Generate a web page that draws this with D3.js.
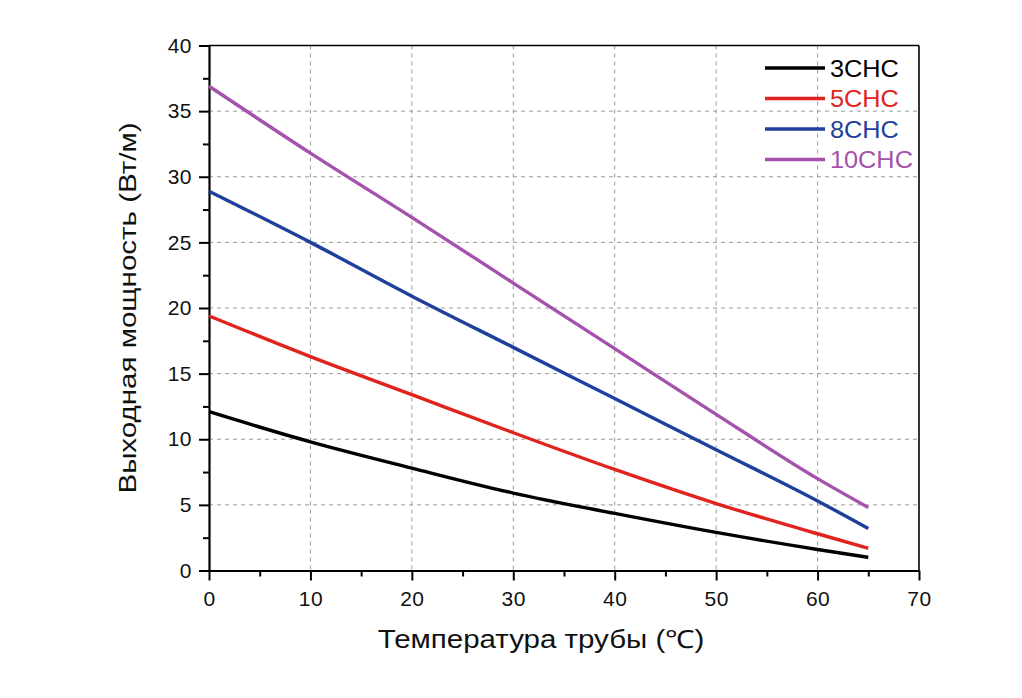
<!DOCTYPE html>
<html><head><meta charset="utf-8">
<script src="https://d3js.org/d3.v7.min.js"></script>
<style>body{margin:0;background:#fff;} text{font-family:"Liberation Sans",Arial,sans-serif;}</style>
</head><body><svg id="c" width="1022" height="698"></svg>
<script>
const temps = [0, 10, 20, 30, 40, 50, 60, 65];
const series = ["3CHC", "5CHC", "8CHC", "10CHC"];
const v3 = [12.1, 9.8, 7.8, 5.9, 4.35, 2.9, 1.6, 1.0];
const v5 = [19.4, 16.3, 13.4, 10.5, 7.7, 5.1, 2.8, 1.7];
const v8 = [28.9, 25.0, 20.9, 17.0, 13.1, 9.2, 5.3, 3.2];
const v10 = [36.9, 31.8, 26.9, 21.9, 16.9, 11.9, 7.0, 4.8];
const colors = ["#000000", "#e0231c", "#1f3f9c", "#a452ab"];
const xTicks = [0, 10, 20, 30, 40, 50, 60, 70];
const yTicks = [0, 5, 10, 15, 20, 25, 30, 35, 40];
const xTitle = "Температура трубы (℃)";
const yTitle = "Выходная мощность (Вт/м)";

const values = [v3, v5, v8, v10];
const svg = d3.select("#c");
const L = 209, R = 919, T = 45.5, B = 570.5;
const x = d3.scaleLinear().domain([0, 70]).range([L, R]);
const y = d3.scaleLinear().domain([0, 40]).range([B, T]);

// grid
const g = svg.append("g");
g.selectAll(".gx").data(xTicks.filter(d => d > 0 && d < 70)).enter().append("line")
  .attr("x1", d => x(d)).attr("x2", d => x(d)).attr("y1", T).attr("y2", B)
  .attr("stroke", "#9a9a9a").attr("stroke-width", 1).attr("stroke-dasharray", "4,4");
g.selectAll(".gy").data(yTicks.filter(d => d > 0 && d < 40)).enter().append("line")
  .attr("y1", d => y(d)).attr("y2", d => y(d)).attr("x1", L).attr("x2", R)
  .attr("stroke", "#9a9a9a").attr("stroke-width", 1).attr("stroke-dasharray", "4,4");

// frame top/right
svg.append("line").attr("x1", L).attr("x2", R).attr("y1", T).attr("y2", T).attr("stroke", "#000").attr("stroke-width", 1.6);
svg.append("line").attr("x1", R).attr("x2", R).attr("y1", T).attr("y2", B).attr("stroke", "#000").attr("stroke-width", 1.6);

// minor ticks
const xMinor = d3.range(5, 70, 10);
const yMinor = d3.range(2.5, 40, 5);
const xa = svg.append("g").attr("transform", `translate(0,${B})`)
  .call(d3.axisBottom(x).tickValues(xMinor).tickSize(6).tickFormat(""));
const ya = svg.append("g").attr("transform", `translate(${L},0)`)
  .call(d3.axisLeft(y).tickValues(yMinor).tickSize(6).tickFormat(""));
[xa, ya].forEach(a => { a.select(".domain").remove(); a.selectAll("line").attr("stroke-width", 2); });

const xAxis = svg.append("g").attr("transform", `translate(0,${B})`)
  .call(d3.axisBottom(x).tickValues(xTicks).tickSize(10).tickSizeOuter(0).tickPadding(11).tickFormat(d3.format("d")));
const yAxis = svg.append("g").attr("transform", `translate(${L},0)`)
  .call(d3.axisLeft(y).tickValues(yTicks).tickSize(10).tickSizeOuter(0).tickPadding(7).tickFormat(d3.format("d")));
[xAxis, yAxis].forEach(a => {
  a.select(".domain").attr("stroke-width", 2.2);
  a.selectAll(".tick line").attr("stroke-width", 2);
  a.selectAll("text").attr("font-size", 21).attr("fill", "#111")
    .style("font-family", "'Liberation Sans',Arial,sans-serif").style("letter-spacing", "0.5px");
});

// lines
const line = d3.line().x((d, i) => x(temps[i])).y(d => y(d)).curve(d3.curveMonotoneX);
values.forEach((vals, k) => {
  svg.append("path").datum(vals).attr("d", line).attr("fill", "none")
    .attr("stroke", colors[k]).attr("stroke-width", 3.4).attr("stroke-linecap", "butt");
});

// legend
const leg = svg.append("g");
series.forEach((s, k) => {
  const yy = 68 + k * 30.5;
  leg.append("line").attr("x1", 765).attr("x2", 825).attr("y1", yy).attr("y2", yy)
    .attr("stroke", colors[k]).attr("stroke-width", 3.4);
  leg.append("text").attr("transform", `translate(830,${yy + 8.5}) scale(1.1,1)`).attr("font-size", 23)
    .attr("fill", colors[k]).text(s);
});

// titles
svg.append("text").attr("transform", "translate(541,648) scale(1.18,1)").attr("text-anchor", "middle")
  .attr("font-size", 25).attr("fill", "#111").text(xTitle);
svg.append("text").attr("transform", "translate(136,308) rotate(-90) scale(1.23,1)").attr("text-anchor", "middle")
  .attr("font-size", 24).attr("fill", "#111").text(yTitle);
</script></body></html>
